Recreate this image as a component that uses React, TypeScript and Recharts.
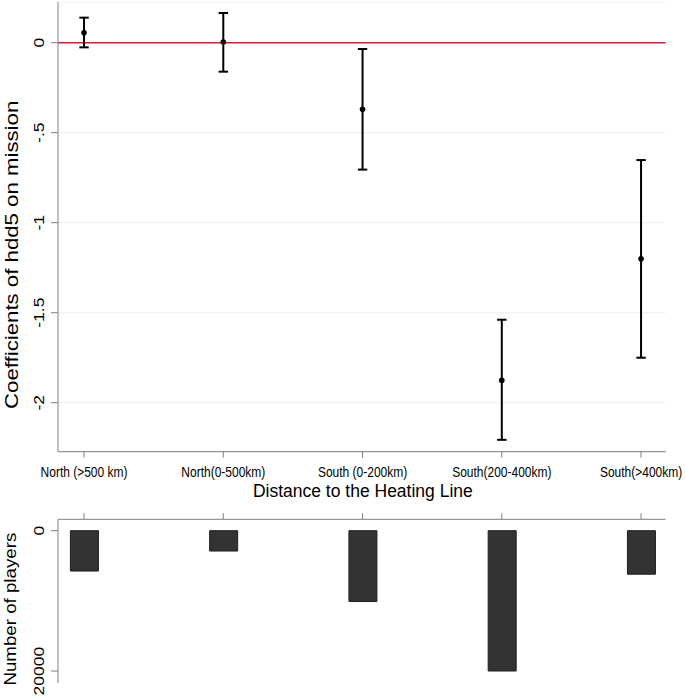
import React from 'react';
import {
  ComposedChart,
  Scatter,
  ErrorBar,
  XAxis,
  YAxis,
  CartesianGrid,
  ReferenceLine,
  Bar,
} from 'recharts';

// ---- data ----
const categories = [
  'North (>500 km)',
  'North(0-500km)',
  'South (0-200km)',
  'South(200-400km)',
  'South(>400km)',
];
const coefficients = [0.055, 0.004, -0.37, -1.876, -1.2];
const ciLower = [-0.026, -0.161, -0.705, -2.206, -1.75];
const ciUpper = [0.139, 0.165, -0.035, -1.539, -0.652];
const players = [5750, 2900, 10100, 20000, 6200];
const coefTicks = [0, -0.5, -1, -1.5, -2];
const playerTicks = [0, 20000];
const xTicks = [0, 1, 2, 3, 4];

const coefData = categories.map((c, i) => ({
  x: i,
  name: c,
  coef: coefficients[i],
  err: [coefficients[i] - ciLower[i], ciUpper[i] - coefficients[i]],
}));
const playerData = categories.map((c, i) => ({ x: i, name: c, players: players[i] }));

const FONT = '"Liberation Sans", Arial, Helvetica, sans-serif';
const AXIS = '#808080';
const STRETCH = 1.17;

const fmtCoef = (v: number) => {
  if (v === 0) return '0';
  return String(v).replace('0.', '.');
};

const YTick = (props: any) => {
  const { x, y, payload, fs, fmt } = props;
  return (
    <text
      transform={`translate(${x - 5.5},${y}) rotate(-90) scale(${STRETCH},1)`}
      textAnchor="middle"
      fontSize={fs}
      fontFamily={FONT}
      fill="#000"
    >
      {fmt(payload.value)}
    </text>
  );
};

const XTick = (props: any) => {
  const { x, y, payload } = props;
  return (
    <text
      transform={`translate(${x},${y + 17}) scale(1,${STRETCH})`}
      textAnchor="middle"
      fontSize={12}
      fontFamily={FONT}
      fill="#000"
    >
      {categories[payload.value]}
    </text>
  );
};

const Dot = (props: any) => <circle cx={props.cx} cy={props.cy} r={2.8} fill="#000" />;

export default function App() {
  return (
    <div style={{ position: 'absolute', left: 0, top: 0, width: 685, height: 697, background: '#fff' }}>
      <ComposedChart
        width={685}
        height={510}
        data={coefData}
        margin={{ top: 2, right: 19.3, bottom: 0, left: 0 }}
      >
        <CartesianGrid vertical={false} stroke="#e8f1f1" strokeWidth={1} />
        <XAxis
          dataKey="x"
          type="number"
          domain={[-0.187, 4.177]}
          ticks={xTicks}
          allowDataOverflow
          height={58.3}
          tickSize={6}
          tickMargin={2}
          axisLine={{ stroke: AXIS }}
          tickLine={{ stroke: AXIS }}
          tick={<XTick />}
          interval={0}
          label={{
            content: (p: any) => {
              const vb = p.viewBox || { x: 58, y: 451.7, width: 607.7 };
              return (
                <text
                  x={vb.x + vb.width / 2 + 1}
                  y={vb.y + 45.6}
                  textAnchor="middle"
                  fontSize={17.5}
                  fontFamily={FONT}
                  fill="#000"
                >
                  Distance to the Heating Line
                </text>
              );
            },
          }}
        />
        <YAxis
          type="number"
          domain={[-2.272, 0.226]}
          ticks={coefTicks}
          allowDataOverflow
          width={58}
          tickSize={7}
          tickMargin={2}
          axisLine={{ stroke: AXIS }}
          tickLine={{ stroke: AXIS }}
          tick={<YTick fs={15} fmt={fmtCoef} />}
          interval={0}
          label={{
            content: (p: any) => {
              const vb = p.viewBox || { x: 0, y: 2, width: 58, height: 449.7 };
              return (
                <text
                  transform={`translate(17.5,${vb.y + vb.height / 2 + 28}) rotate(-90) scale(${STRETCH},1)`}
                  textAnchor="middle"
                  fontSize={19}
                  fontFamily={FONT}
                  fill="#000"
                >
                  Coefficients of hdd5 on mission
                </text>
              );
            },
          }}
        />
        <ReferenceLine y={0} stroke="#d7193f" strokeWidth={1.6} />
        <Scatter dataKey="coef" shape={<Dot />} isAnimationActive={false}>
          <ErrorBar dataKey="err" direction="y" width={4.7} stroke="#000" strokeWidth={2} />
        </Scatter>
      </ComposedChart>
      <ComposedChart
        width={685}
        height={187}
        data={playerData}
        margin={{ top: 0, right: 19.3, bottom: 14, left: 0 }}
      >
        <XAxis
          dataKey="x"
          type="number"
          orientation="top"
          domain={[-0.187, 4.177]}
          ticks={xTicks}
          allowDataOverflow
          height={9.3}
          tickSize={6}
          axisLine={{ stroke: AXIS }}
          tickLine={{ stroke: AXIS }}
          tickFormatter={() => ''}
          interval={0}
        />
        <YAxis
          type="number"
          domain={[-1625, 21710]}
          reversed
          ticks={playerTicks}
          allowDataOverflow
          width={58}
          tickSize={7}
          tickMargin={2}
          axisLine={{ stroke: AXIS }}
          tickLine={{ stroke: AXIS }}
          tick={<YTick fs={15} fmt={(v: number) => String(v)} />}
          interval={0}
          label={{
            content: (p: any) => {
              const vb = p.viewBox || { x: 0, y: 9.3, width: 58, height: 163.7 };
              return (
                <text
                  transform={`translate(15.5,${vb.y + vb.height / 2 + 8}) rotate(-90) scale(${STRETCH},1)`}
                  textAnchor="middle"
                  fontSize={16}
                  fontFamily={FONT}
                  fill="#000"
                >
                  Number of players
                </text>
              );
            },
          }}
        />
        <Bar dataKey="players" barSize={28} fill="#333333" stroke="#1e1e1e" strokeWidth={1} isAnimationActive={false} />
      </ComposedChart>
    </div>
  );
}
